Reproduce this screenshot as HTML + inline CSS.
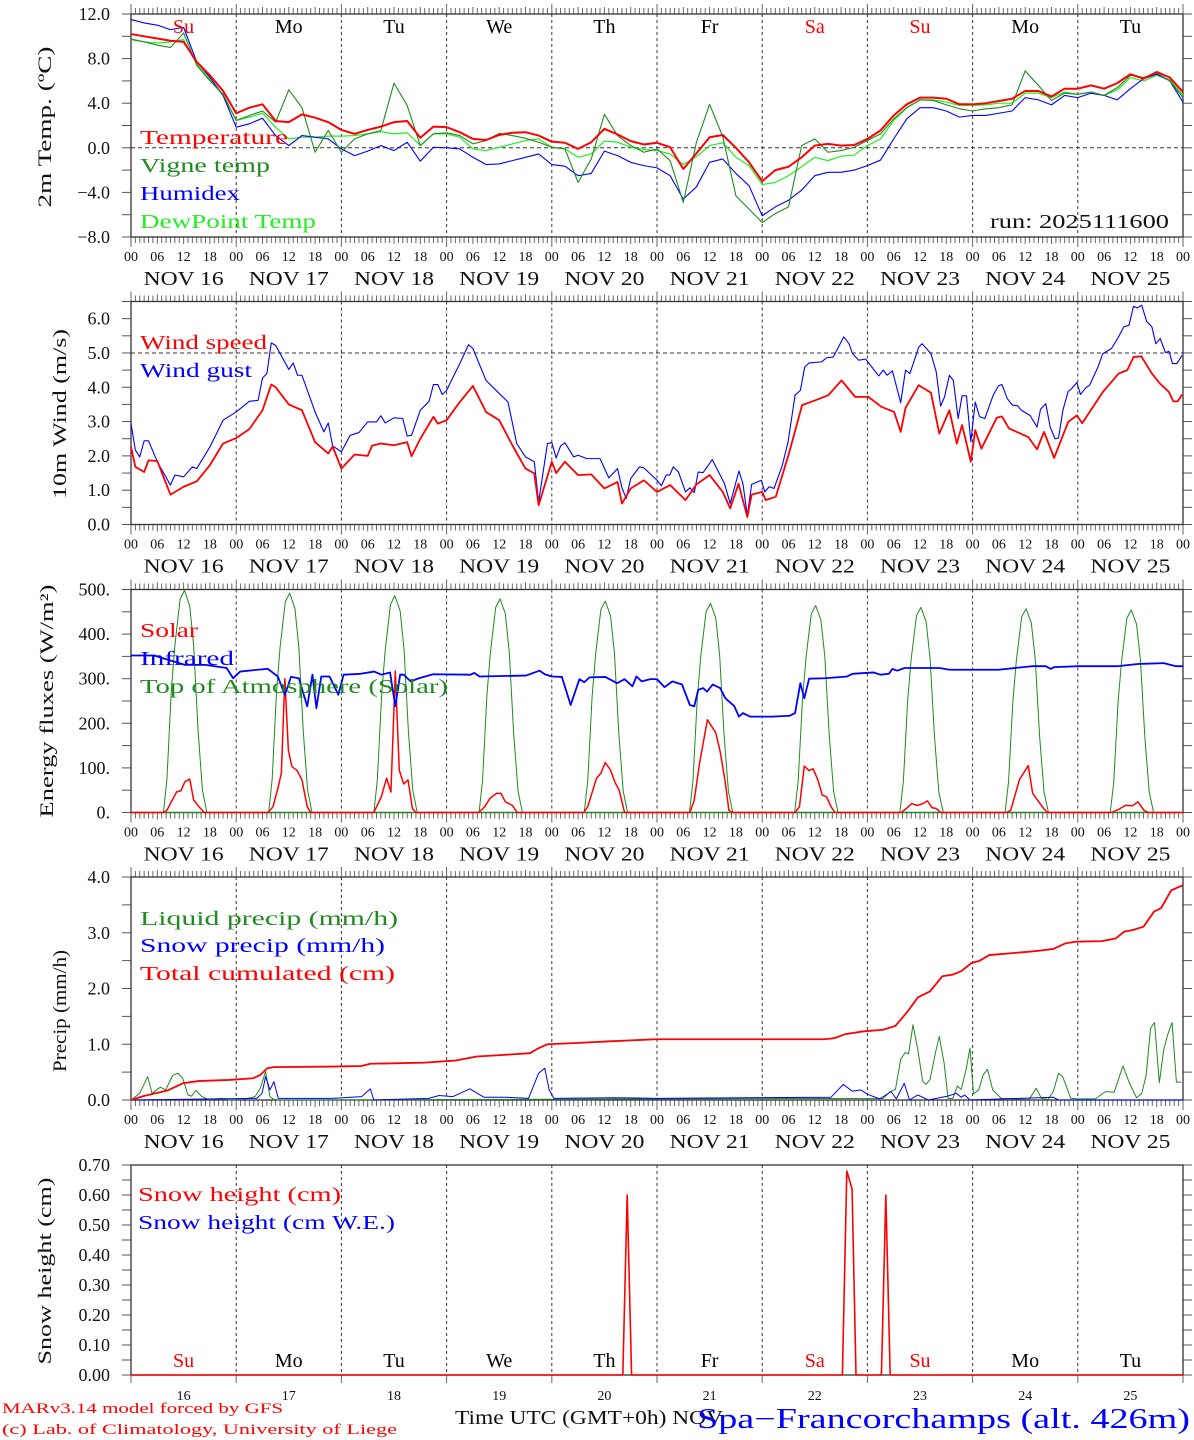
<!DOCTYPE html>
<html><head><meta charset="utf-8"><title>MAR forecast Spa-Francorchamps</title>
<style>
html,body{margin:0;padding:0;background:#fff;}
svg{display:block;font-family:"Liberation Serif",serif;}
</style></head>
<body>
<svg id="chart" xmlns="http://www.w3.org/2000/svg" width="1194" height="1440" viewBox="0 0 1194 1440"></svg>
<script>
// ---------- DATA ----------
const dayNames = ["Su","Mo","Tu","We","Th","Fr","Sa","Su","Mo","Tu"];
const dayColors = ["red","black","black","black","black","black","red","red","black","black"];
const dayNums = ["16","17","18","19","20","21","22","23","24","25"];
const hourTickLabels = ["00","06","12","18"];

// Panel 1: 3-hourly from 00 UTC Nov 16
const tempValues = [10.2,10.0,9.8,9.6,9.5,7.7,6.5,5.1,3.1,3.6,3.9,2.4,2.3,3.0,2.7,2.3,1.6,1.25,1.6,1.9,2.3,2.4,0.9,1.9,1.85,1.4,0.8,0.7,1.15,1.35,1.4,1.1,0.55,0.45,-0.1,0.5,1.7,1.2,0.6,0.3,0.45,0.05,-1.9,-0.5,0.95,1.15,0,-1.3,-3.0,-2.0,-1.7,-0.85,0.2,0.35,0.2,0.25,0.8,1.55,2.9,3.9,4.5,4.5,4.4,3.9,3.9,4.0,4.2,4.4,5.1,5.1,4.6,5.3,5.3,5.6,5.3,5.8,6.6,6.2,6.8,6.3,5.0];
const vigneValues = [9.75,9.5,9.2,9.0,10.3,7.4,6.0,4.8,2.45,2.9,3.3,2.3,5.2,3.6,-0.4,1.55,-0.4,0.8,1.25,1.55,5.8,3.8,0.2,1.25,1.35,1.1,0.35,0.65,1.3,1.1,0.85,0.5,0.05,-0.1,-3.1,-1.0,3.0,1.1,0.2,-0.4,-0.1,-1.15,-4.9,0.5,3.9,1.0,-4.3,-5.5,-6.7,-5.9,-5.3,0.2,0.8,-0.4,-0.25,0.05,0.65,1.25,2.6,3.6,4.3,4.25,3.85,3.5,3.3,3.5,3.6,3.85,6.9,5.6,4.25,4.9,4.8,5.0,4.7,5.4,6.5,6.3,6.7,6.0,4.5];
const humidexValues = [11.5,11.2,11.0,10.6,10.8,7.7,6.3,4.7,1.85,2.15,2.65,1.1,0.2,1.1,0.95,0.8,-0.1,-0.7,-0.3,0.2,-0.25,0.5,-1.2,0.05,0,-0.1,-0.85,-1.5,-1.45,-1.15,-0.85,-0.55,-1.5,-1.65,-2.5,-2.3,-0.3,-0.7,-1.3,-1.6,-1.8,-2.5,-4.6,-3.5,-1.3,-1.0,-2.3,-3.4,-6.1,-5.3,-4.7,-3.8,-2.5,-2.2,-2.2,-2.0,-1.6,-1.1,0.8,2.6,3.6,3.6,3.3,2.75,2.9,2.9,3.1,3.3,4.5,4.3,3.85,4.7,4.5,4.9,4.7,4.3,5.3,6.2,6.6,6.0,4.1];
const dewValues = [9.7,9.5,9.4,9.5,9.7,7.5,6.1,4.7,2.45,2.75,3.1,1.85,0.8,0.95,0.95,1.05,1.05,1.1,1.25,1.45,1.25,1.35,0.2,1.25,1.25,0.95,-0.1,-0.25,0.05,0.35,0.65,0.8,0.05,-0.1,-0.85,-0.55,0.6,0.5,0.05,-0.15,-0.25,-0.55,-1.5,-0.8,0.2,0.45,-0.85,-1.6,-3.3,-3.1,-2.5,-1.7,-0.85,-1.15,-0.75,-0.65,0.2,0.8,2.45,3.6,4.3,4.3,4.1,3.8,3.8,3.85,4.0,4.0,4.9,4.9,4.5,5.0,4.8,5.0,4.7,5.2,6.3,6.0,6.5,6.1,4.7];

// Panel 2: wind
const windHours = [0,1,3,4,6,9,12,15,18,21,24,27,30,32,33,36,39,42,45,46,48,51,54,55,57,60,63,64,66,69,70,72,75,78,81,84,87,90,92,93,96,97,99,102,105,108,111,112,114,117,120,123,126.5,129,132,135,136.7,138.6,140.6,141.6,144,144.8,147.1,150.1,153.1,156.1,159.1,162.1,165.2,168.2,171.2,174.1,175.6,176.7,179.7,182.5,184.4,186.7,188.4,189.6,191.6,192.6,194,197.5,198.7,200.3,204.7,206.7,208.3,210.6,213.8,215.8,217,221.7,225.3,227.3,228.7,230.5,232.9,234.8,236.8,237.8,238.8,239.8];
const windValues = [2.26,1.68,1.53,1.87,1.85,0.87,1.1,1.26,1.73,2.36,2.52,2.78,3.33,4.08,4.0,3.5,3.33,2.4,2.07,2.27,1.63,2.04,2.0,2.3,2.36,2.31,2.4,1.99,2.5,3.14,2.94,3.04,3.57,4.04,3.28,3.04,2.31,1.63,1.49,0.56,1.83,1.5,1.83,1.44,1.46,1.05,1.24,0.61,1.05,1.29,0.95,1.15,0.71,1.17,1.44,0.95,0.47,1.19,0.22,0.87,0.95,0.71,0.81,2.07,3.48,3.62,3.77,4.2,3.72,3.72,3.43,3.28,2.7,3.4,4.06,3.84,2.65,3.33,2.36,2.9,1.83,2.75,2.21,3.11,3.15,2.8,2.55,2.19,2.7,1.94,2.99,3.18,2.95,3.86,4.4,4.5,4.88,4.9,4.4,4.1,3.86,3.59,3.59,3.79];
const gustHours = [0,1,2,3,4,6,9,10,12,14,15,18,21,24,27,29,30,31,32,33,36,37,38,39,42,44,45,46,48,50,52,54,56,57,58,60,62,63,64,66,68,69,70,71,72,75,77,78,81,84,86,88,90,92,93,95,96,97,98,99,101,102,104,107,109,111,112,113,114,116,117,120,121,122.1,122.9,123.7,124.9,126.5,127.5,128.5,129.4,130.5,132.6,135.4,136.7,138.7,139.6,140.6,141.6,143.8,144.6,145.6,146.7,148.6,149.9,151.5,152.7,153.7,154.7,157.5,158.7,160.2,162.6,163.8,164.6,166,167.6,170.6,171.6,172.5,173.7,175.6,176.7,177.7,179.7,180.5,182.5,183.7,184.7,185.6,186.7,187.6,188.7,189.6,190.6,191.6,192.6,193.6,194.8,196.7,197.9,198.7,199.9,201.1,202.3,203.1,205.1,206.7,207.5,208.7,209.7,210.8,211.6,212.6,213.8,214.6,215.8,216.6,217.8,218.7,220.6,221.7,223.7,225.3,226.5,227.7,228.7,229.5,230.6,231.7,232.9,233.8,234.8,236,236.8,237.6,238.6,239.8];
const gustValues = [2.94,2.17,1.97,2.44,2.44,1.83,1.15,1.44,1.39,1.68,1.63,2.26,3.04,3.28,3.59,3.62,4.27,4.4,5.29,5.22,4.52,4.71,4.35,4.35,3.28,2.7,2.96,2.29,2.12,2.6,2.68,2.99,2.99,3.17,2.96,3.11,3.09,2.58,2.6,3.33,3.59,4.08,4.08,3.79,3.91,4.69,5.24,5.13,4.2,3.82,3.57,2.36,1.97,1.83,0.66,2.36,2.39,1.94,2.29,2.38,1.97,2.02,1.92,1.92,1.36,1.63,1.07,0.76,1.34,1.68,1.65,1.29,1.13,1.44,1.44,1.68,1.53,0.95,1.07,0.93,1.53,1.51,1.89,1.19,0.61,1.56,1.19,0.27,1.17,1.29,0.95,1.1,1.05,1.73,2.41,3.77,3.91,4.59,4.71,4.74,4.86,4.88,5.47,5.27,4.98,4.79,4.82,4.33,4.5,4.35,4.48,3.55,4.5,4.4,5.17,5.27,4.98,4.45,3.45,3.72,4.35,4.2,3.09,3.75,3.75,2.41,3.57,3.14,3.09,3.77,4.04,4.08,3.67,3.48,3.46,3.33,3.18,2.84,3.36,3.52,2.84,2.5,2.52,3.33,3.88,3.96,4.14,3.79,3.98,4.06,4.59,4.98,5.13,5.47,5.76,5.81,6.36,6.31,6.39,5.92,5.76,5.27,5.42,5.01,5.05,4.69,4.69,4.93];

// Panel 3: energy fluxes
const solarHours = [0,7.4,8.2,9.2,10.4,11.4,12.3,13.4,14.3,15.5,16.7,31.3,32.4,33.5,34.3,35.1,35.9,36.7,37.9,39,40.2,41,55.4,57.1,58.3,59.3,60.3,61.2,62.2,63.2,64.2,65,79.3,80.7,81.9,83.4,84.4,85.4,87,88.1,103.3,104.2,106.2,107.2,108.2,109.4,110.4,111.4,112.6,127.5,128.5,129.7,131.5,133.4,134.4,135.5,136.4,137.2,151.5,152.5,153.6,154.7,155.6,156.7,157.7,158.7,159.7,160.6,175.7,176.9,178.1,179.3,180.5,181.7,182.7,183.7,184.7,199.7,200.7,202.7,204.7,205.7,206.8,207.9,209,223.7,225.3,226.9,228.5,229.7,231.1,232.1,240];
const solarValues = [0,0,5,24,46,49,69,75,28,13,0,0,13,54,88,300,140,103,94,73,13,0,0,35,77,46,317,95,64,73,9,0,0,13,32,43,43,24,16,0,0,13,77,88,112,95,68,49,0,0,28,110,208,179,137,73,5,0,0,13,104,94,98,73,39,35,13,0,0,9,20,16,19,26,11,9,0,0,5,74,105,43,28,13,0,0,7,16,15,24,5,0,0];
const infraredHours = [0,5.3,12.3,17,21.8,23.3,24.9,28.8,31.2,33.5,35.1,36.5,38.3,40.2,41.4,42.3,43.4,45.3,47.3,48.5,52.4,55.5,57.1,59.1,60.3,61.4,62.2,63.8,65.7,68.9,77.5,78.3,79.5,90.1,93.2,94.4,96,98.3,100.3,102.3,103.4,104.6,108.2,110.9,112.6,114.4,115.3,116.5,118.5,120,121.7,123.5,125.7,127.5,128.5,129.4,130.5,131.4,132.7,134.4,135.6,137.6,138.7,139.6,141.2,146.3,150.3,151.5,152.7,153.6,154.7,158.3,163.4,164.6,169.4,171,172.9,173.7,174.8,176.5,184.4,186.8,197.9,205.5,208.7,209.8,210.6,216.2,225,229.7,235.6,238.4,240];
const infraredValues = [352,352,331,331,324,301,316,320,322,305,264,304,301,238,309,234,305,305,264,309,311,316,309,314,238,309,309,294,301,310,309,313,305,307,318,310,305,304,241,299,292,303,304,290,299,283,305,294,299,299,281,294,287,241,238,275,279,271,287,279,256,239,215,223,215,215,217,223,290,256,300,301,305,311,314,309,311,322,318,324,324,320,320,328,328,322,326,328,328,333,335,328,328];
const toaPeaks = [498,492,486,479,474,469,464,460,457,454];
const toaProfileHours = [7.4,8.2,9.2,10,11.2,12.2,13.4,14.3,15.3,16.3,17.3];
const toaProfileShape = [0,0.15,0.55,0.75,0.96,1,0.93,0.75,0.37,0.1,0];

// Panel 4: precipitation
const cumHours = [0,2.8,8.3,11.8,15.4,22.4,27.9,29.5,31.1,32.6,46,52.6,54.6,67.1,74.2,78.9,85.2,91,93,95,100.9,108.7,119.7,158.2,160.5,162.9,166.9,171.6,174.4,177.2,179.5,182.3,185.1,187.5,189.4,191.8,193.4,195.8,204.9,207.3,210.4,213.2,215.6,221.5,224.7,226.6,228.6,231,233.4,235,237.3,239.3,240];
const cumValues = [0,0.07,0.17,0.3,0.34,0.36,0.39,0.45,0.57,0.59,0.6,0.61,0.65,0.67,0.71,0.78,0.81,0.84,0.93,1.0,1.02,1.05,1.09,1.09,1.11,1.18,1.23,1.26,1.33,1.59,1.84,1.95,2.22,2.25,2.31,2.46,2.49,2.6,2.66,2.68,2.71,2.81,2.84,2.85,2.9,3.02,3.05,3.11,3.38,3.44,3.76,3.83,3.85];
const liquidHours = [0,2,3.8,4.8,6.7,7.9,9.5,10.7,11.8,13,13.8,14.8,16.2,17.7,20.9,22.4,25.6,28.3,29.5,30.7,31.7,32.6,34,171.6,173.2,174.4,175.6,176.6,177.4,178.4,179.5,180.6,181.4,182.3,183.5,184.4,185.5,186.4,187.5,188.5,189.4,190.5,191.4,192.2,193.4,194.4,195.4,196.6,198.5,204.9,206.5,207.7,209.2,210.4,211.6,212.6,214.4,216,220,222.3,224.3,226.3,227.8,229.4,230.6,231.6,232.6,233.5,234.6,235.6,236.5,237.5,238.5,239.6];
const liquidValues = [0,0.12,0.42,0.12,0.23,0.18,0.44,0.48,0.39,0.09,0.07,0.17,0.06,0.01,0.03,0,0.01,0.06,0.21,0.51,0.06,0.01,0,0.03,0.15,0.19,0.73,0.85,0.83,1.35,0.9,0.34,0.28,0.37,0.84,1.14,0.66,0.03,0.03,0.25,0.19,0.54,0.93,0.11,0.18,0.45,0.55,0.18,0.03,0.01,0.21,0.03,0.01,0.15,0.48,0.41,0.03,0.02,0.02,0.15,0.14,0.61,0.3,0.04,0.12,0.45,1.29,1.39,0.31,0.9,1.17,1.39,0.32,0.32];
const snowHours = [0,28.7,29.9,30.7,31.7,32.6,33.6,46,52.6,54.6,55.4,67.9,70.3,73.4,77.3,80.5,85.2,90.7,93,94.4,95.4,96.5,110.3,120,159.7,162.5,164.5,166.5,168.1,170.8,173.4,174.6,176.4,177.6,179.5,181.9,186.3,188.3,189.4,190.2,191.4,210.4,211.6,240];
const snowValues = [0,0.03,0.12,0.42,0.18,0.33,0.03,0.03,0.06,0.2,0,0.03,0.08,0.06,0.2,0.05,0.05,0.03,0.48,0.57,0.18,0.03,0.04,0.03,0.05,0.28,0.16,0.18,0.1,0.02,0.15,0.02,0.3,0,0.09,0,0.07,0.12,0.05,0.09,0,0.05,0,0];

// Panel 5: snow height
const snowHeightHours = [0,112.2,113.2,114.2,162.3,163.3,164.5,165.4,171.2,172.2,173.2,240];
const snowHeightValues = [0,0,0.6,0,0,0.68,0.62,0,0,0.6,0,0];

// ---------- LAYOUT ----------
const NS = "http://www.w3.org/2000/svg";
const svg = document.getElementById("chart");
const X0 = 131, X1 = 1183, HOURS = 240;
function xs(h){ return X0 + h / HOURS * (X1 - X0); }
const P = {
  temp:   {top:14,   bot:237,  min:-8, max:12},
  wind:   {top:301.5,bot:524.5,min:0,  max:6.5},
  energy: {top:589.5,bot:812.5,min:0,  max:500},
  precip: {top:877,  bot:1100, min:0,  max:4},
  snow:   {top:1165, bot:1375, min:0,  max:0.7}
};
function ys(p, v){ return p.bot - (v - p.min) / (p.max - p.min) * (p.bot - p.top); }

function mk(tag, attrs, parent){
  const el = document.createElementNS(NS, tag);
  for (const k in attrs) el.setAttribute(k, attrs[k]);
  (parent || svg).appendChild(el);
  return el;
}
function text(str, x, y, size, color, name, extra){
  const el = mk("text", {x:x, y:y, "font-size":size, fill:color});
  
  
  if (extra) for (const k in extra) el.setAttribute(k, extra[k]);
  el.textContent = str;
  return el;
}
function line(x1,y1,x2,y2,color,w,dash,name){
  const el = mk("line",{x1:x1,y1:y1,x2:x2,y2:y2,stroke:color,"stroke-width":w});
  if (dash) el.setAttribute("stroke-dasharray", dash);
  
  
  return el;
}
function series(p, hours, values, color, w, name){
  let d = "";
  for (let i = 0; i < values.length; i++){
    d += (i ? "L" : "M") + xs(hours[i]).toFixed(2) + "," + ys(p, values[i]).toFixed(2);
  }
  const el = mk("path",{d:d, fill:"none", stroke:color, "stroke-width":w, "stroke-linejoin":"round"});
  
  
  return el;
}
const grid3h = tempValues.map((_, i) => i * 3);

function frame(p, key, ticks, labelEvery, fmt, comb){
  // dashed day lines
  for (let d = 1; d < 10; d++){
    line(xs(d*24), p.top, xs(d*24), p.bot, "#333", 1, "3,3", key + "-day-divider");
  }
  // y ticks & labels
  const n = Math.round((p.max - p.min) / ticks);
  for (let i = 0; i <= n; i++){
    const v = p.min + i * ticks;
    if (v > p.max + 1e-9) break;
    const y = ys(p, v);
    line(X0 - 9, y, X0, y, "#555", 1, null, key + "-y-tick");
    line(X1, y, X1 + 9, y, "#555", 1, null, key + "-y-tick-right");
    if (Math.abs(Math.round(v / labelEvery) * labelEvery - v) < 1e-6){
      text(fmt(v), 110, y + 6, 18, "#111", key + "-y-tick-label", {"text-anchor":"end"});
    }
  }
  if (comb){
    for (let h = 0; h <= HOURS; h++){
      const len = h % 24 === 0 ? 10 : (h % 6 === 0 ? 7 : 6);
      line(xs(h), p.top - len, xs(h), p.top, "#666", 1, null, key + "-x-tick-top");
      line(xs(h), p.bot, xs(h), p.bot + len, "#666", 1, null, key + "-x-tick-bottom");
    }
    for (let h = 0; h <= HOURS; h += 6){
      text(hourTickLabels[(h / 6) % 4], xs(h), p.bot + 24, 14, "#111", key + "-hour-label", {"text-anchor":"middle"});
    }
    for (let d = 0; d < 10; d++){
      text("NOV " + dayNums[d], xs(d*24 + 12), p.bot + 48, 20, "#111", key + "-date-label", {"text-anchor":"middle", textLength:80, lengthAdjust:"spacingAndGlyphs"});
    }
  } else {
    for (let d = 0; d <= 10; d++){
      line(xs(d*24), p.bot, xs(d*24), p.bot + 8, "#666", 1, null, key + "-x-tick-bottom");
    }
  }
  const r = mk("rect",{x:X0, y:p.top, width:X1-X0, height:p.bot-p.top, fill:"none", stroke:"#333", "stroke-width":1.3});
  
  
}
function ytitle(str, cx, cy, len, name){
  text(str, cx, cy, 19, "#111", name, {"text-anchor":"middle", transform:"rotate(-90 " + cx + " " + cy + ")", textLength:len, lengthAdjust:"spacingAndGlyphs", dy:"6"});
}
function legend(str, x, y, color, len, name){
  text(str, x, y, 20, color, name, {textLength:len, lengthAdjust:"spacingAndGlyphs"});
}
const minus = s => s.replace("-", "\u2212");

// ---------- PANEL 1 ----------
frame(P.temp, "temp-panel", 2, 4, v => minus(v.toFixed(1)), true);
line(X0, ys(P.temp,0), X1, ys(P.temp,0), "#333", 1, "4,3", "temp-zero-line");
series(P.temp, grid3h, dewValues, "#22ee22", 1.2, "dewpoint-line");
series(P.temp, grid3h, humidexValues, "#0000ff", 1.1, "humidex-line");
series(P.temp, grid3h, vigneValues, "#1f8a1f", 1.1, "vigne-temp-line");
series(P.temp, grid3h, tempValues, "#ff0000", 2, "temperature-line");
for (let d = 0; d < 10; d++){
  text(dayNames[d], xs(d*24+12), 33, 20, dayColors[d], "day-name-label", {"text-anchor":"middle"});
}
legend("Temperature", 140, 144, "#ff0000", 148, "legend-temperature");
legend("Vigne temp", 140, 172, "#1f8a1f", 130, "legend-vigne-temp");
legend("Humidex", 140, 200, "#0000ff", 100, "legend-humidex");
legend("DewPoint Temp", 140, 228, "#22ee22", 176, "legend-dewpoint");
text("run: 2025111600", 990, 228, 20, "#111", "run-label", {textLength:179, lengthAdjust:"spacingAndGlyphs"});
ytitle("2m Temp. (\u00baC)", 45, 127, 161, "temp-y-axis-title");

// ---------- PANEL 2 ----------
frame(P.wind, "wind-panel", 0.5, 1, v => v.toFixed(1), true);
line(X0, ys(P.wind,5), X1, ys(P.wind,5), "#333", 1, "4,3", "wind-5ms-line");
series(P.wind, gustHours, gustValues, "#0000ff", 1.1, "wind-gust-line");
series(P.wind, windHours, windValues, "#ff0000", 1.8, "wind-speed-line");
legend("Wind speed", 140, 349, "#ff0000", 127, "legend-wind-speed");
legend("Wind gust", 140, 377, "#0000ff", 112, "legend-wind-gust");
ytitle("10m Wind (m/s)", 60, 414, 170, "wind-y-axis-title");

// ---------- PANEL 3 ----------
frame(P.energy, "energy-panel", 50, 100, v => v.toFixed(0) + ".", true);
for (let d = 0; d < toaPeaks.length; d++){
  const hrs = toaProfileHours.map(h => d*24 + h);
  const vals = toaProfileShape.map(f => f * toaPeaks[d]);
  series(P.energy, hrs, vals, "#1f8a1f", 1, "toa-solar-line");
}
line(X0, ys(P.energy,0), X1, ys(P.energy,0), "#1f8a1f", 1.2, null, "toa-baseline");
series(P.energy, solarHours, solarValues, "#ff0000", 1.5, "solar-line");
series(P.energy, infraredHours, infraredValues, "#0000ff", 1.8, "infrared-line");
legend("Solar", 140, 637, "#ff0000", 58, "legend-solar");
legend("Infrared", 140, 665, "#0000ff", 94, "legend-infrared");
legend("Top of Atmosphere (Solar)", 140, 693, "#1f8a1f", 308, "legend-toa");
ytitle("Energy fluxes (W/m\u00b2)", 47, 701, 233, "energy-y-axis-title");

// ---------- PANEL 4 ----------
frame(P.precip, "precip-panel", 0.5, 1, v => v.toFixed(1), true);
series(P.precip, liquidHours, liquidValues, "#1f8a1f", 1, "liquid-precip-line");
series(P.precip, snowHours, snowValues, "#0000ff", 1, "snow-precip-line");
series(P.precip, cumHours, cumValues, "#ff0000", 1.8, "total-cumulated-line");
legend("Liquid precip (mm/h)", 140, 925, "#1f8a1f", 258, "legend-liquid-precip");
legend("Snow precip (mm/h)", 140, 952, "#0000ff", 245, "legend-snow-precip");
legend("Total cumulated (cm)", 140, 980, "#ff0000", 255, "legend-total-cumulated");
ytitle("Precip (mm/h)", 60, 1011, 122, "precip-y-axis-title");

// ---------- PANEL 5 ----------
frame(P.snow, "snow-panel", 0.05, 0.1, v => v.toFixed(2), false);
series(P.snow, snowHeightHours, snowHeightValues, "#ff0000", 1.6, "snow-height-line");
for (let d = 0; d < 10; d++){
  text(dayNames[d], xs(d*24+12), 1367, 20, dayColors[d], "snow-day-name-label", {"text-anchor":"middle"});
  text(dayNums[d], xs(d*24+12), 1400, 14, "#111", "snow-date-label", {"text-anchor":"middle"});
}
legend("Snow height (cm)", 138, 1201, "#ff0000", 203, "legend-snow-height");
legend("Snow height (cm W.E.)", 138, 1229, "#0000ff", 257, "legend-snow-height-we");
ytitle("Snow height (cm)", 45, 1271, 187, "snow-y-axis-title");

// ---------- FOOTER ----------
text("Time UTC (GMT+0h) NOV", 455, 1424, 20, "#111", "x-axis-title", {textLength:268, lengthAdjust:"spacingAndGlyphs"});
text("Spa\u2212Francorchamps (alt. 426m)", 697, 1428, 28, "#0000ff", "station-title", {textLength:493, lengthAdjust:"spacingAndGlyphs"});
text("MARv3.14 model forced by GFS", 2, 1413, 15, "#ff0000", "model-credit", {textLength:281, lengthAdjust:"spacingAndGlyphs"});
text("(c) Lab. of Climatology, University of Liege", 2, 1434, 15, "#ff0000", "copyright-credit", {textLength:395, lengthAdjust:"spacingAndGlyphs"});
</script>
</body></html>
